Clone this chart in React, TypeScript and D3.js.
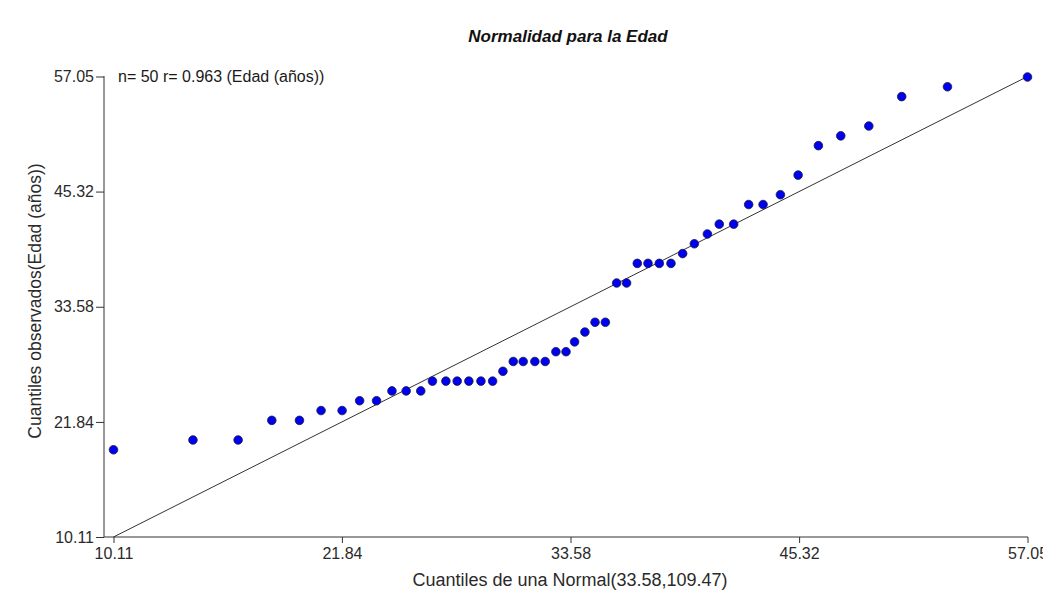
import { useEffect, useRef } from "react"
import * as d3 from "d3"

const normalQuantiles = [
    10.11, 14.19, 16.51, 18.24, 19.66, 20.77, 21.85, 22.75, 23.62, 24.41,
    25.14, 25.89, 26.49, 27.18, 27.76, 28.36, 28.98, 29.58, 30.11, 30.64,
    31.15, 31.75, 32.28, 32.83, 33.35, 33.79, 34.32, 34.84, 35.37, 35.95,
    36.46, 37.01, 37.56, 38.14, 38.74, 39.34, 39.94, 40.61, 41.22, 41.96,
    42.73, 43.47, 44.36, 45.27, 46.31, 47.46, 48.9, 50.59, 52.94, 57.05,
]
const observedAges = [
    19, 20, 20, 22, 22, 23, 23, 24, 24, 25,
    25, 25, 26, 26, 26, 26, 26, 26, 27, 28,
    28, 28, 28, 29, 29, 30, 31, 32, 32, 36,
    36, 38, 38, 38, 38, 39, 40, 41, 42, 42,
    44, 44, 45, 47, 50, 51, 52, 55, 56, 57,
]
const tickValues = [10.11, 21.84, 33.58, 45.32, 57.05]
const domain: [number, number] = [10.11, 57.05]

const title = "Normalidad para la Edad"
const note = "n= 50 r= 0.963 (Edad (años))"
const xLabel = "Cuantiles de una Normal(33.58,109.47)"
const yLabel = "Cuantiles observados(Edad (años))"

const FONT = "'Liberation Sans', Arial, sans-serif"

export default function App() {
    const ref = useRef<SVGSVGElement | null>(null)

    useEffect(() => {
        const svg = d3.select(ref.current)
        svg.selectAll("*").remove()

        const width = 1043
        const height = 607
        const left = 104
        const bottom = 537

        const x = d3.scaleLinear().domain(domain).range([113.5, 1027.5])
        const y = d3.scaleLinear().domain(domain).range([bottom, 76.5])

        svg.attr("width", width).attr("height", height)

        svg.append("rect")
            .attr("width", width)
            .attr("height", height)
            .attr("fill", "#fff")

        svg.append("text")
            .attr("x", 568)
            .attr("y", 42)
            .attr("text-anchor", "middle")
            .attr("font-family", FONT)
            .attr("font-size", 17)
            .attr("font-weight", "bold")
            .attr("font-style", "italic")
            .attr("fill", "#111")
            .text(title)

        // ejes
        const xAxis = svg.append("g")
            .attr("transform", `translate(0,${bottom})`)
            .call(
                d3.axisBottom(x)
                    .tickValues(tickValues)
                    .tickFormat(d3.format(".2f"))
                    .tickSize(6)
                    .tickSizeOuter(0)
                    .tickPadding(5)
            )
        xAxis.select(".domain").remove()
        xAxis.append("line")
            .attr("x1", left)
            .attr("x2", x(domain[1]) + 0.5)
            .attr("stroke", "#333")

        const yAxis = svg.append("g")
            .attr("transform", `translate(${left},0)`)
            .call(
                d3.axisLeft(y)
                    .tickValues(tickValues)
                    .tickFormat(d3.format(".2f"))
                    .tickSize(8)
                    .tickSizeOuter(0)
                    .tickPadding(2)
            )
        yAxis.select(".domain").remove()
        yAxis.append("line")
            .attr("y1", y(domain[1]) - 0.5)
            .attr("y2", bottom)
            .attr("stroke", "#333")

        svg.selectAll(".tick line").attr("stroke", "#333")
        svg.selectAll(".tick text")
            .attr("font-family", FONT)
            .attr("font-size", 16)
            .attr("fill", "#2a2a2a")

        // recta de referencia
        svg.append("line")
            .attr("x1", x(domain[0]))
            .attr("y1", y(domain[0]))
            .attr("x2", x(domain[1]))
            .attr("y2", y(domain[1]))
            .attr("stroke", "#333")
            .attr("stroke-width", 1)

        svg.append("g")
            .selectAll("circle")
            .data(normalQuantiles.map((q, i) => ({ q, v: observedAges[i] })))
            .join("circle")
            .attr("cx", d => x(d.q))
            .attr("cy", d => y(d.v))
            .attr("r", 4.3)
            .attr("fill", "#0000f0")
            .attr("stroke", "#1a1a40")
            .attr("stroke-width", 0.8)

        svg.append("text")
            .attr("x", 118)
            .attr("y", 82)
            .attr("font-family", FONT)
            .attr("font-size", 16)
            .attr("fill", "#1a1a1a")
            .text(note)

        svg.append("text")
            .attr("x", 570)
            .attr("y", 586)
            .attr("text-anchor", "middle")
            .attr("font-family", FONT)
            .attr("font-size", 18)
            .attr("fill", "#2a2a2a")
            .text(xLabel)

        svg.append("text")
            .attr("transform", `translate(41,301) rotate(-90)`)
            .attr("text-anchor", "middle")
            .attr("font-family", FONT)
            .attr("font-size", 17.5)
            .attr("fill", "#2a2a2a")
            .text(yLabel)
    }, [])

    return (
        <svg
            ref={ref}
            style={{ position: "absolute", left: 0, top: 0, display: "block" }}
        />
    )
}
